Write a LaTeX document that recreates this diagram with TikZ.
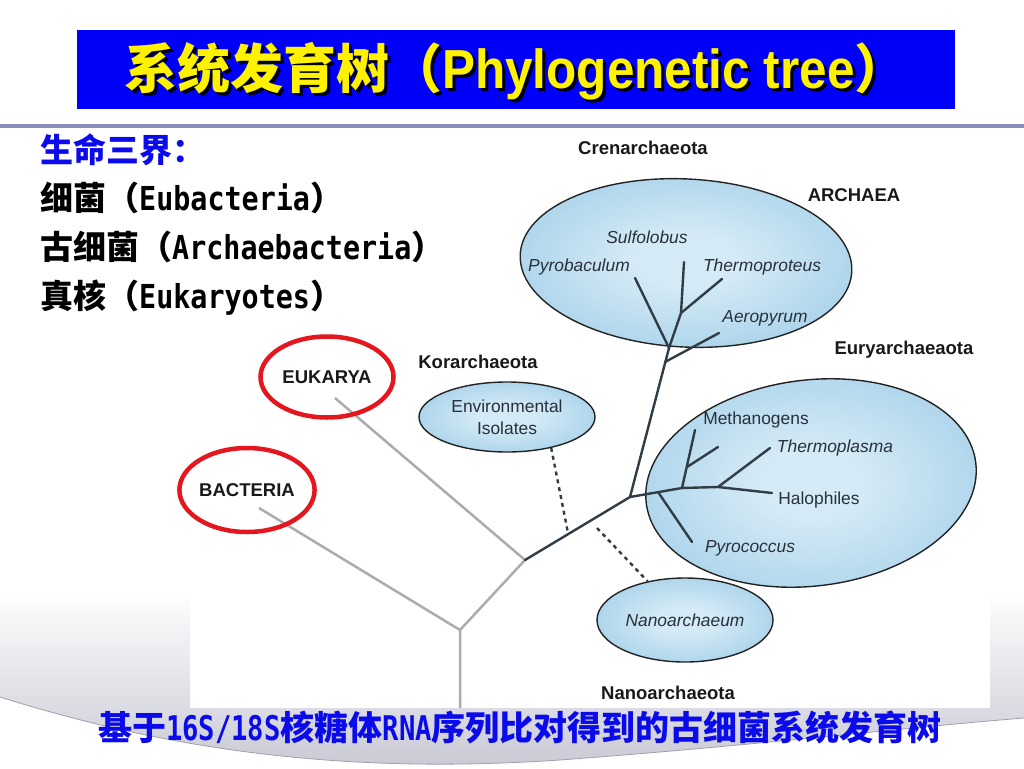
\documentclass[tikz,border=0pt]{standalone}
\usepackage{graphicx}
\usepackage{fontspec}
\setmainfont{Liberation Sans}
\newfontfamily\cjk{Noto Sans CJK SC}
\newfontfamily\hei{DejaVu Sans Mono}
\usetikzlibrary{shapes.geometric}
\definecolor{titleblue}{RGB}{0,0,250}
\definecolor{textblue}{RGB}{10,10,235}
\definecolor{sepline}{RGB}{140,140,188}
\definecolor{swoosh}{RGB}{200,200,212}
\definecolor{ringred}{RGB}{228,22,30}
\definecolor{greybranch}{RGB}{172,172,172}
\definecolor{darkbranch}{RGB}{48,60,70}
\definecolor{taxtext}{RGB}{40,48,58}
\definecolor{blobedge}{RGB}{35,35,35}
\definecolor{blobin}{RGB}{212,234,246}
\definecolor{blobmid}{RGB}{165,208,233}
\definecolor{blobout}{RGB}{124,184,221}
\pgfdeclareradialshading{blobshade}{\pgfpointorigin}{color(0bp)=(blobin); color(8bp)=(blobin); color(30bp)=(blobmid); color(50bp)=(blobout)}
\newcommand\monolat[1]{\scalebox{0.86}[1]{\hei\bfseries\fontsize{33}{36}\selectfont #1}}
\newcommand\botlat[1]{\scalebox{0.8}[1]{\hei\bfseries\fontsize{34}{38}\selectfont #1}}
\newcommand\titletext{{\cjk 系统发育树（}\scalebox{0.9}[1]{\fontsize{55}{60}\selectfont Phylogenetic tree}{\cjk ）}}

\begin{document}
\begin{tikzpicture}[x=1pt,y=-1pt,
    every node/.style={inner sep=0pt},
    greyline/.style={line width=2.5pt,draw=greybranch},
    darkline/.style={line width=2.4pt,draw=darkbranch,line cap=round},
    dotline/.style={line width=2.4pt,draw=darkbranch,dash pattern=on 4pt off 4pt},
    blob/.style={ellipse,draw=blobedge,line width=1.4pt,shading=blobshade},
    redring/.style={ellipse,draw=ringred,line width=4.5pt},
    group/.style={font=\fontsize{18.5}{22}\selectfont\bfseries,text=black!90},
    taxon/.style={font=\fontsize{17.4}{23}\selectfont,text=taxtext},
    taxonit/.style={font=\fontsize{17.4}{23}\selectfont\itshape,text=taxtext},
    leftline/.style={anchor=base west,font=\cjk\bfseries\fontsize{33}{36}\selectfont}]
\useasboundingbox (0,0) rectangle (1024,768);
% slide background
\shade[top color=white,bottom color=swoosh] (0,590) -- (1024,590) -- (1024,718)
    .. controls (900,728) and (760,745) .. (560,760)
    .. controls (380,772) and (200,760) .. (0,697) -- cycle;
\draw[line width=0.8pt,draw=swoosh!80!black] (1024,718) .. controls (900,728) and (760,745) .. (560,760)
    .. controls (380,772) and (200,760) .. (0,697);
\fill[white] (190,330) rectangle (990,708);
\draw[line width=4pt,draw=sepline] (0,126) -- (1024,126);
% title
\node[fill=titleblue,minimum width=878pt,minimum height=79pt,anchor=north west] (titlebox) at (77,30) {};
\node[anchor=base,text=black,font=\bfseries\fontsize{53}{60}\selectfont] (titleshadow) at (519,91) {\titletext};
\node[anchor=base,text=yellow,font=\bfseries\fontsize{53}{60}\selectfont] (title) at (516,88) {\titletext};
% three domains
\node[leftline,text=textblue] (l1) at (40,162) {生命三界：};
\node[leftline] (l2) at (40,210) {细菌（\monolat{Eubacteria}）};
\node[leftline] (l3) at (40,259) {古细菌（\monolat{Archaebacteria}）};
\node[leftline] (l4) at (40,308) {真核（\monolat{Eukaryotes}）};
% clusters
\node[blob,minimum width=332pt,minimum height=168pt,rotate=-3] (cren) at (686,263) {};
\node[blob,minimum width=332pt,minimum height=206pt,rotate=7] (eury) at (811,483) {};
\node[blob,minimum width=176pt,minimum height=70pt,taxon,align=center] (env) at (507,417) {Environmental\\[-1pt]Isolates};
\node[blob,minimum width=176pt,minimum height=84pt,taxonit] (nano) at (685,620) {Nanoarchaeum};
% branch points
\coordinate (root) at (460,708);
\coordinate (nb) at (460,630);
\coordinate (bac) at (259,508);
\coordinate (ne) at (525,560);
\coordinate (euk) at (335,398);
\coordinate (na) at (630,497);
\coordinate (nc) at (669,348);
\coordinate (aero0) at (665,362);
\coordinate (aero) at (719,333);
\coordinate (pyrob) at (635,278);
\coordinate (sulf0) at (681,313);
\coordinate (sulf) at (684,262);
\coordinate (therm) at (722,279);
\coordinate (p0) at (658,492);
\coordinate (pyroc) at (692,542);
\coordinate (m0) at (682,488);
\coordinate (m1) at (687,467);
\coordinate (meth) at (695,430);
\coordinate (mside) at (718,447);
\coordinate (t0) at (718,487);
\coordinate (tpl) at (770,448);
\coordinate (halo) at (772,493);
\coordinate (d1) at (568,533);
\coordinate (d2) at (597,528);
% grey tree
\draw[greyline] (root) -- (nb) -- (bac);
\draw[greyline] (nb) -- (ne) -- (euk);
% archaea
\draw[darkline] (ne) -- (na) -- (nc) -- (pyrob);
\draw[darkline] (nc) -- (sulf0) -- (sulf);
\draw[darkline] (sulf0) -- (therm);
\draw[darkline] (aero0) -- (aero);
\draw[darkline] (na) -- (m0) -- (t0) -- (halo);
\draw[darkline] (m0) -- (meth);
\draw[darkline] (m1) -- (mside);
\draw[darkline] (t0) -- (tpl);
\draw[darkline] (p0) -- (pyroc);
\draw[dotline] (env.-35) -- (d1);
\draw[dotline] (d2) -- (nano.134);
% labels
\node[redring,group,minimum width=133pt,minimum height=81pt] (eukarya) at (327,377) {EUKARYA};
\node[redring,group,minimum width=130pt,minimum height=84pt] (bacteria) at (247,490) {BACTERIA};
\node[group] (crenlbl) at (643,148) {Crenarchaeota};
\node[group] (archlbl) at (854,195) {ARCHAEA};
\node[group] (eurylbl) at (904,350) {Euryarchaeaota};
\node[group] (korlbl) at (478,362) {Korarchaeota};
\node[group] (nanolbl) at (668,693) {Nanoarchaeota};
\node[taxonit] (sulflbl) at (647,237) {Sulfolobus};
\node[taxonit] (pyroblbl) at (579,267) {Pyrobaculum};
\node[taxonit] (thermlbl) at (762,267) {Thermoproteus};
\node[taxonit] (aerolbl) at (765,318) {Aeropyrum};
\node[taxon] (methlbl) at (756,420) {Methanogens};
\node[taxonit] (tpllbl) at (835,448) {Thermoplasma};
\node[taxon] (halolbl) at (819,500) {Halophiles};
\node[taxonit] (pyroclbl) at (750,548) {Pyrococcus};
% caption
\node[anchor=base,text=textblue,font=\cjk\bfseries\fontsize{34}{40}\selectfont] (caption) at (520,740)
    {基于\botlat{16S/18S}核糖体\botlat{RNA}序列比对得到的古细菌系统发育树};
\end{tikzpicture}
\end{document}
